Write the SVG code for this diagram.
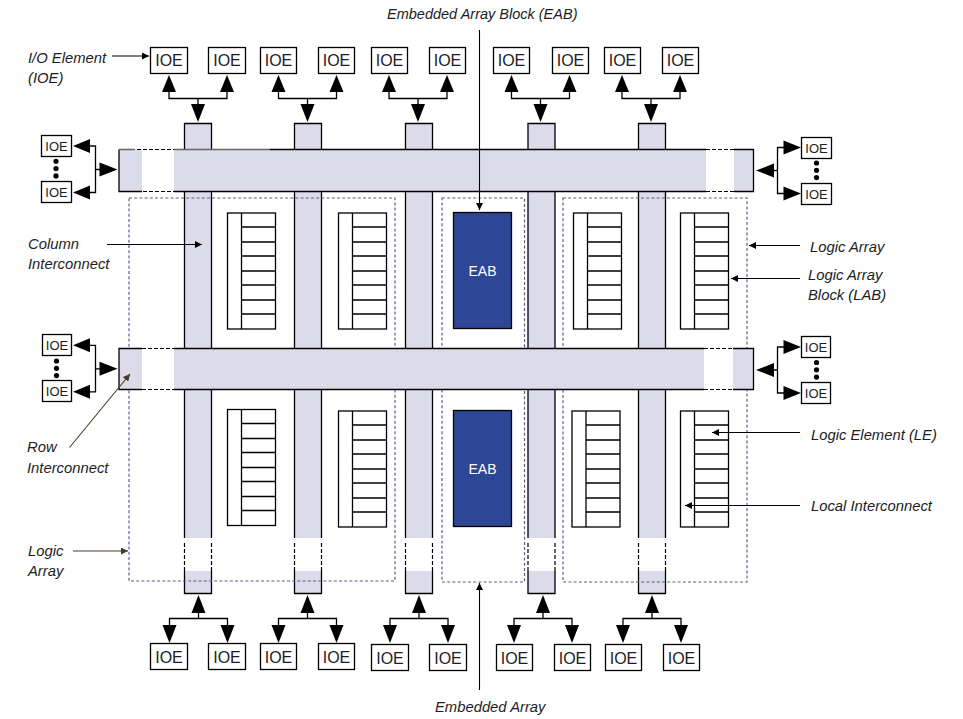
<svg xmlns="http://www.w3.org/2000/svg" xmlns:xlink="http://www.w3.org/1999/xlink" width="963" height="719" viewBox="0 0 963 719">
<style>
text{font-family:"Liberation Sans",Arial,sans-serif;fill:#1c1c24}
.lbl{font-size:14.800px;font-style:italic}
.box{fill:#fff;stroke:#000;stroke-width:1.3}
.big{font-size:16px;text-anchor:middle}
.sm{font-size:13px;text-anchor:middle}
.ln{fill:none;stroke:#000;stroke-width:1.3}
.gray{fill:none;stroke:#666;stroke-width:1.3}
.dash{fill:none;stroke:#000;stroke-width:1.2;stroke-dasharray:4 2}
.band{fill:#dcdbea}
.dot{fill:none;stroke:#5a5f93;stroke-width:1.2;stroke-dasharray:3 2.2}
.eab{fill:#2e4696;stroke:#000;stroke-width:1.3}
.eabt{font-size:14px;text-anchor:middle;fill:#fff}
.tri{fill:#000}
.lead{fill:none;stroke:#000;stroke-width:1.1}
.brown{fill:none;stroke:#4a3c20;stroke-width:1.1}
</style>
<defs>
<marker id="ah" markerUnits="userSpaceOnUse" markerWidth="8" markerHeight="7" refX="7" refY="3.5" orient="auto"><path d="M0 0L7 3.5L0 7z" fill="#000"/></marker>
<marker id="ahb" markerUnits="userSpaceOnUse" markerWidth="8" markerHeight="7" refX="7" refY="3.5" orient="auto"><path d="M0 0L7 3.5L0 7z" fill="#4a3c20"/></marker>
<g id="topfan"><path class="ln" d="M0 91V98.5H58V91M29 98.5V105"/><polygon class="tri" points="0,75 7,92 -7,92"/><polygon class="tri" points="58,75 65,92 51,92"/><polygon class="tri" points="29,122 22,104 36,104"/></g>
<g id="botfan"><path class="ln" d="M0 626V618.5H58V626M29 618.5V612"/><polygon class="tri" points="0,643 7,625 -7,625"/><polygon class="tri" points="58,643 65,625 51,625"/><polygon class="tri" points="29,595 22,613 36,613"/></g>
<g id="leftfan"><path class="ln" d="M89 0H95.5V46.5H89M95.5 23.5H100"/><polygon class="tri" points="73,0 90,-7 90,7"/><polygon class="tri" points="73,46.5 90,39.5 90,53.5"/><polygon class="tri" points="117.500,23.500 99.500,16.500 99.500,30.500"/></g>
<g id="rightfan"><path class="ln" d="M785 0H777.500V46H785M777.500 23H772"/><polygon class="tri" points="801,0 783.500,-7 783.500,7"/><polygon class="tri" points="801,46 783.500,39 783.500,53"/><polygon class="tri" points="756,23 774,16 774,30"/></g>
<g id="dots"><circle cx="0" cy="0" r="2.600"/><circle cx="0" cy="7.300" r="2.600"/><circle cx="0" cy="14.600" r="2.600"/></g>
<g id="lab"><rect class="box" x="0" y="0" width="48" height="116"/><path class="ln" d="M14 0V116M14 14H48M14 29H48M14 43H48M14 58H48M14 72H48M14 87H48M14 101H48"/></g>
<g id="col"><rect class="band" x="0" y="123.500" width="27" height="470"/><rect fill="#fff" x="-1" y="538" width="29" height="33"/><path class="ln" d="M0 538V123.500H27V538M0 571V593.500H27V571"/><path class="dash" d="M0 543V571M27 543V571"/></g>
</defs>

<g id="columns">
<use href="#col" x="184.500"/><use href="#col" x="294.500"/><use href="#col" x="405.500"/><use href="#col" x="528"/><use href="#col" x="638.500"/>
</g>

<g id="logic-arrays">
<path class="dot" d="M129 198H395V581H129Z"/>
<path class="dot" d="M442 198H524.500V582H442Z"/>
<path class="dot" d="M563 198H747V582H563Z"/>
</g>

<g id="row-1">
<rect class="band" x="119" y="149.500" width="634.500" height="42"/>
<rect fill="#fff" x="142" y="148" width="32" height="45"/><rect fill="#fff" x="706" y="148" width="28" height="45"/>
<path class="ln" d="M142 191.500H119V149.500M270 149.500H706M734 149.500H753.500V191.500H734M706 191.500H174"/>
<path class="gray" d="M119 149.500H135M174 149.500H270"/>
<path class="dash" d="M137 149.500H174M143 191.500H174M706 149.500H734M706 191.500H734"/>
</g>
<g id="row-2">
<rect class="band" x="119" y="348.500" width="634.500" height="41"/>
<rect fill="#fff" x="142" y="347" width="32" height="44"/><rect fill="#fff" x="704" y="347" width="29" height="44"/>
<path class="ln" d="M142 389.500H119V348.500H142M174 348.500H704M733 348.500H753.500V389.500H733M704 389.500H174"/>
<path class="dash" d="M142 348.500H174M142 389.500H174M704 348.500H733M704 389.500H733"/>
</g>

<g id="lab-1"><use href="#lab" x="227.500" y="213"/></g>
<g id="lab-2"><use href="#lab" x="338.500" y="213"/></g>
<g id="lab-3"><use href="#lab" x="573.500" y="213"/></g>
<g id="lab-4"><use href="#lab" x="680.500" y="213"/></g>
<g id="lab-5"><use href="#lab" x="227.500" y="409.500"/></g>
<g id="lab-6"><use href="#lab" x="338.500" y="411"/></g>
<g id="lab-7"><use href="#lab" x="572" y="411"/></g>
<g id="lab-8"><use href="#lab" x="680.500" y="411"/></g>

<g id="eab-1"><rect class="eab" x="453.500" y="212.500" width="58" height="116"/><text class="eabt" x="482.500" y="276">EAB</text></g>
<g id="eab-2"><rect class="eab" x="453.500" y="410.500" width="58" height="116"/><text class="eabt" x="482.500" y="474">EAB</text></g>

<g id="connectors">
<use href="#topfan" x="169"/><use href="#topfan" x="278.500"/><use href="#topfan" x="389"/><use href="#topfan" x="511.500"/><use href="#topfan" x="622"/>
<use href="#botfan" x="169.500"/><use href="#botfan" x="278.500"/><use href="#botfan" x="390"/><use href="#botfan" x="514"/><use href="#botfan" x="623"/>
<use href="#leftfan" y="146"/><use href="#leftfan" y="345.300"/>
<use href="#rightfan" y="147.500"/><use href="#rightfan" y="347"/>
<use href="#dots" x="56" y="161.300"/><use href="#dots" x="56.500" y="361"/><use href="#dots" x="816.500" y="163"/><use href="#dots" x="816.500" y="362.500"/>
<path class="lead" marker-end="url(#ah)" d="M112 56H149"/>
<path class="lead" marker-end="url(#ah)" d="M107 244.500H202"/>
<path class="lead" marker-end="url(#ah)" d="M800 245.500H749"/>
<path class="lead" marker-end="url(#ah)" d="M800 278.500H731"/>
<path class="lead" marker-end="url(#ah)" d="M800 432.500H712"/>
<path class="lead" marker-end="url(#ah)" d="M800 505.500H685"/>
<path class="lead" marker-end="url(#ah)" d="M479.500 30V210"/>
<path class="lead" marker-end="url(#ah)" d="M479.500 690V583"/>
<path class="brown" marker-end="url(#ahb)" d="M69.500 447.500L130 374"/>
<path class="brown" marker-end="url(#ahb)" d="M73 551H128"/>
</g>

<g id="ioe-top-1"><rect class="box" x="150.500" y="47.500" width="37" height="26"/><text class="big" x="169" y="66">IOE</text></g>
<g id="ioe-top-2"><rect class="box" x="208.500" y="47.500" width="37" height="26"/><text class="big" x="227" y="66">IOE</text></g>
<g id="ioe-top-3"><rect class="box" x="260.500" y="47.500" width="36" height="26"/><text class="big" x="278.500" y="66">IOE</text></g>
<g id="ioe-top-4"><rect class="box" x="318.500" y="47.500" width="36" height="26"/><text class="big" x="336.500" y="66">IOE</text></g>
<g id="ioe-top-5"><rect class="box" x="371.500" y="47.500" width="36" height="26"/><text class="big" x="389.500" y="66">IOE</text></g>
<g id="ioe-top-6"><rect class="box" x="429.500" y="47.500" width="36" height="26"/><text class="big" x="447.500" y="66">IOE</text></g>
<g id="ioe-top-7"><rect class="box" x="493.500" y="47.500" width="36" height="26"/><text class="big" x="511.500" y="66">IOE</text></g>
<g id="ioe-top-8"><rect class="box" x="552.500" y="47.500" width="36" height="26"/><text class="big" x="570.500" y="66">IOE</text></g>
<g id="ioe-top-9"><rect class="box" x="604.500" y="47.500" width="36" height="26"/><text class="big" x="622.500" y="66">IOE</text></g>
<g id="ioe-top-10"><rect class="box" x="662.500" y="47.500" width="36" height="26"/><text class="big" x="680.500" y="66">IOE</text></g>

<g id="ioe-bot-1"><rect class="box" x="150.500" y="643.500" width="37" height="26"/><text class="big" x="169" y="663">IOE</text></g>
<g id="ioe-bot-2"><rect class="box" x="208.500" y="643.500" width="37" height="26"/><text class="big" x="227" y="663">IOE</text></g>
<g id="ioe-bot-3"><rect class="box" x="260.500" y="643.500" width="36" height="26"/><text class="big" x="278.500" y="663">IOE</text></g>
<g id="ioe-bot-4"><rect class="box" x="318.500" y="643.500" width="36" height="26"/><text class="big" x="336.500" y="663">IOE</text></g>
<g id="ioe-bot-5"><rect class="box" x="371.500" y="644.500" width="37" height="26"/><text class="big" x="390" y="664">IOE</text></g>
<g id="ioe-bot-6"><rect class="box" x="429.500" y="644.500" width="37" height="26"/><text class="big" x="448" y="664">IOE</text></g>
<g id="ioe-bot-7"><rect class="box" x="496.500" y="644.500" width="36" height="26"/><text class="big" x="514.500" y="664">IOE</text></g>
<g id="ioe-bot-8"><rect class="box" x="554.500" y="644.500" width="36" height="26"/><text class="big" x="572.500" y="664">IOE</text></g>
<g id="ioe-bot-9"><rect class="box" x="605.500" y="644.500" width="36" height="26"/><text class="big" x="623.500" y="664">IOE</text></g>
<g id="ioe-bot-10"><rect class="box" x="663.500" y="644.500" width="36" height="26"/><text class="big" x="681.500" y="664">IOE</text></g>

<g id="ioe-left-1"><rect class="box" x="41.500" y="135.500" width="30" height="21"/><text class="sm" x="56.500" y="151">IOE</text></g>
<g id="ioe-left-2"><rect class="box" x="41.500" y="181.500" width="30" height="21"/><text class="sm" x="56.500" y="197">IOE</text></g>
<g id="ioe-left-3"><rect class="box" x="42.500" y="334.500" width="29" height="21"/><text class="sm" x="57" y="350">IOE</text></g>
<g id="ioe-left-4"><rect class="box" x="42.500" y="380.500" width="29" height="21"/><text class="sm" x="57" y="396">IOE</text></g>
<g id="ioe-right-1"><rect class="box" x="801.500" y="137.500" width="30" height="21"/><text class="sm" x="816.500" y="153">IOE</text></g>
<g id="ioe-right-2"><rect class="box" x="801.500" y="183.500" width="30" height="21"/><text class="sm" x="816.500" y="199">IOE</text></g>
<g id="ioe-right-3"><rect class="box" x="801.500" y="336.500" width="29" height="21"/><text class="sm" x="816" y="352">IOE</text></g>
<g id="ioe-right-4"><rect class="box" x="801.500" y="382.500" width="29" height="21"/><text class="sm" x="816" y="398">IOE</text></g>

<g id="labels">
<text class="lbl" x="387" y="19" style="font-size:14.500px">Embedded Array Block (EAB)</text>
<text class="lbl" x="28" y="62.500">I/O Element</text>
<text class="lbl" x="28" y="82.500">(IOE)</text>
<text class="lbl" x="28" y="249">Column</text>
<text class="lbl" x="28" y="269">Interconnect</text>
<text class="lbl" x="810" y="251.500">Logic Array</text>
<text class="lbl" x="808" y="280">Logic Array</text>
<text class="lbl" x="808" y="299.500">Block (LAB)</text>
<text class="lbl" x="27" y="451.500">Row</text>
<text class="lbl" x="27" y="472.500">Interconnect</text>
<text class="lbl" x="28" y="556">Logic</text>
<text class="lbl" x="28" y="576">Array</text>
<text class="lbl" x="811" y="439.500">Logic Element (LE)</text>
<text class="lbl" x="811" y="511">Local Interconnect</text>
<text class="lbl" x="435" y="712">Embedded Array</text>
</g>
</svg>
